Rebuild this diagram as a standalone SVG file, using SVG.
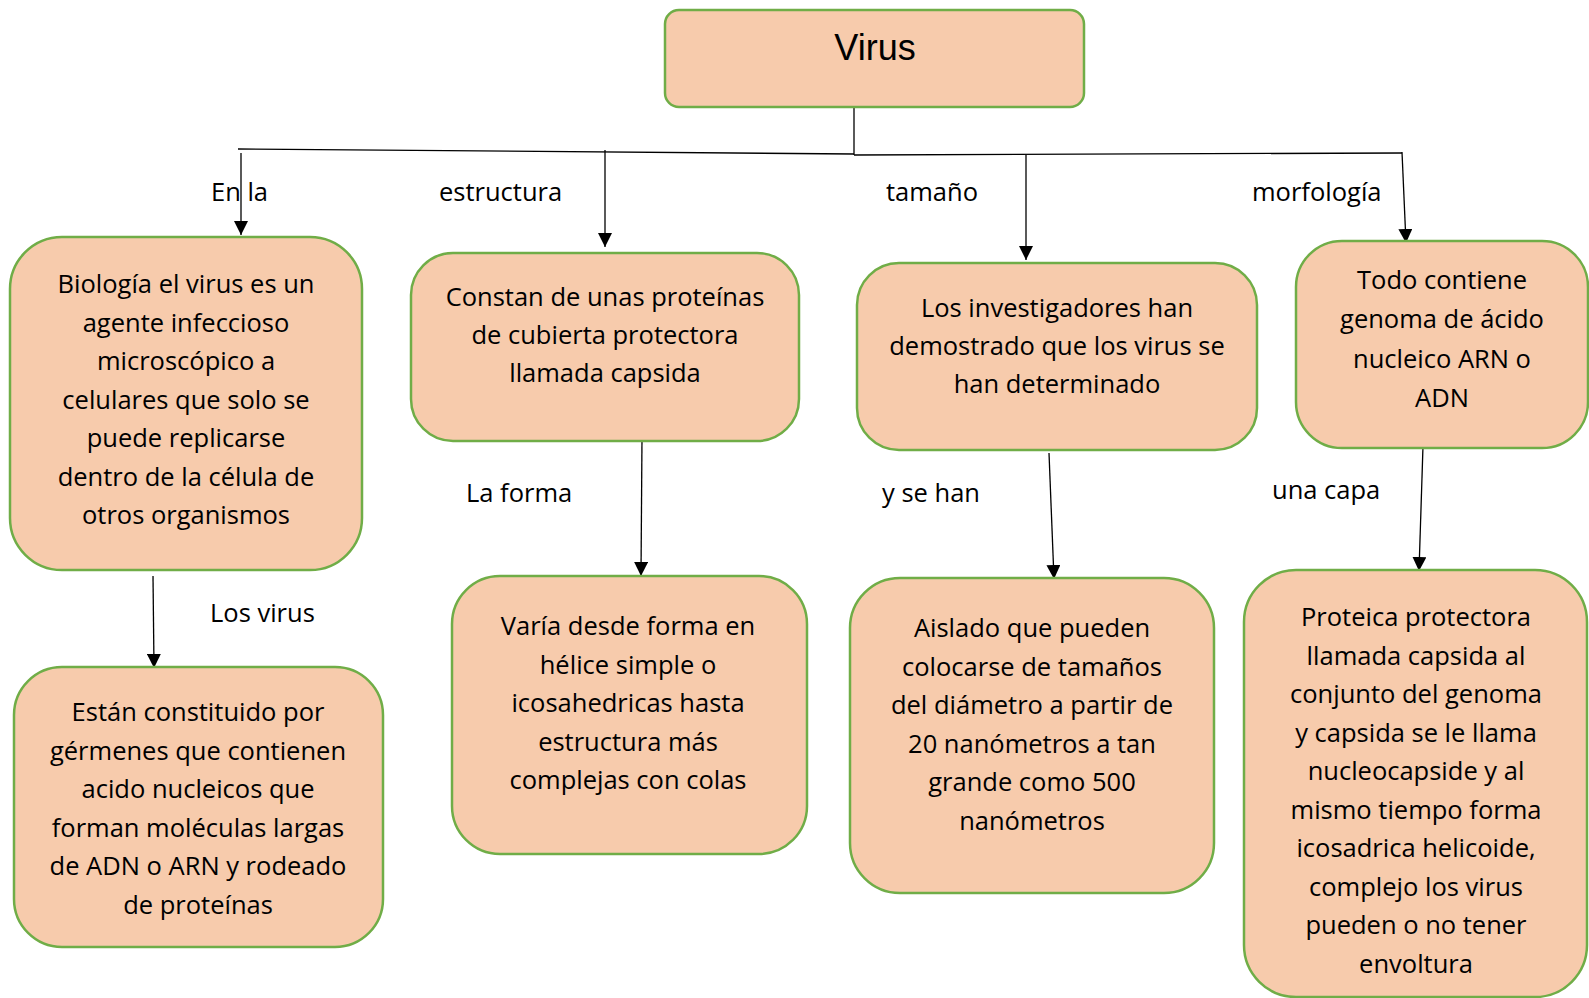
<svg xmlns="http://www.w3.org/2000/svg" width="1589" height="998" viewBox="0 0 1589 998">
<defs>
<marker id="ah" markerWidth="14" markerHeight="14" refX="14" refY="7" orient="auto" markerUnits="userSpaceOnUse">
<path d="M0,0 L14,7 L0,14 Z" fill="#000"/>
</marker>
<style>
.box{fill:#F7CBAC;stroke:#70AD47;stroke-width:2.5}
.t{font-family:"Open Sans","Noto Sans",sans-serif;font-size:25.5px;fill:#000;text-anchor:middle}
.lbl{font-family:"Open Sans","Noto Sans",sans-serif;font-size:25.5px;fill:#000}
.ln{stroke:#000;stroke-width:1.3;fill:none}
.ar{stroke:#000;stroke-width:1.3;fill:none;marker-end:url(#ah)}
</style>
</defs>
<rect width="1589" height="998" fill="#fff"/>
<g id="connectors">
<path class="ln" d="M854,107 L854,155"/>
<path class="ln" d="M238,149 L854,154"/>
<path class="ln" d="M854,155 L1402,153"/>
<path class="ar" d="M241,153 L241,235"/>
<path class="ar" d="M605,150 L605,247"/>
<path class="ar" d="M1026,155 L1026,260"/>
<path class="ar" d="M1402,152 L1406,243"/>
<path class="ar" d="M153,576 L154,668"/>
<path class="ar" d="M642,437 L641,576"/>
<path class="ar" d="M1049,453 L1054,579"/>
<path class="ar" d="M1423,446 L1419,571"/>
</g>
<g id="labels">
<text class="lbl" x="211" y="201">En la</text>
<text class="lbl" x="439" y="201">estructura</text>
<text class="lbl" x="886" y="201">tamaño</text>
<text class="lbl" x="1252" y="201">morfología</text>
<text class="lbl" x="210" y="622">Los virus</text>
<text class="lbl" x="466" y="502">La forma</text>
<text class="lbl" x="882" y="502">y se han</text>
<text class="lbl" x="1272" y="499">una capa</text>
</g>
<g id="virus">
<rect class="box" x="665" y="10" width="419" height="97" rx="14"/>
<text x="875" y="60" font-family="'Liberation Sans',Arial,sans-serif" font-size="36" text-anchor="middle">Virus</text>
</g>
<g id="n1">
<rect class="box" x="10" y="237" width="352" height="333" rx="52"/>
<text class="t" x="186"><tspan x="186" y="293">Biología el virus es un</tspan><tspan x="186" y="331.5">agente infeccioso</tspan><tspan x="186" y="370">microscópico a</tspan><tspan x="186" y="408.5">celulares que solo se</tspan><tspan x="186" y="447">puede replicarse</tspan><tspan x="186" y="485.5">dentro de la célula de</tspan><tspan x="186" y="524">otros organismos</tspan></text>
</g>
<g id="n2">
<rect class="box" x="411" y="253" width="388" height="188" rx="42"/>
<text class="t" x="605"><tspan x="605" y="306">Constan de unas proteínas</tspan><tspan x="605" y="344">de cubierta protectora</tspan><tspan x="605" y="382">llamada capsida</tspan></text>
</g>
<g id="n3">
<rect class="box" x="857" y="263" width="400" height="187" rx="42"/>
<text class="t" x="1057"><tspan x="1057" y="317">Los investigadores han</tspan><tspan x="1057" y="355">demostrado que los virus se</tspan><tspan x="1057" y="393">han determinado</tspan></text>
</g>
<g id="n4">
<rect class="box" x="1296" y="241" width="292" height="207" rx="46"/>
<text class="t" x="1442"><tspan x="1442" y="289">Todo contiene</tspan><tspan x="1442" y="328">genoma de ácido</tspan><tspan x="1442" y="368">nucleico ARN o</tspan><tspan x="1442" y="407">ADN</tspan></text>
</g>
<g id="n5">
<rect class="box" x="14" y="667" width="369" height="280" rx="48"/>
<text class="t" x="198"><tspan x="198" y="721">Están constituido por</tspan><tspan x="198" y="759.5">gérmenes que contienen</tspan><tspan x="198" y="798">acido nucleicos que</tspan><tspan x="198" y="836.5">forman moléculas largas</tspan><tspan x="198" y="875">de ADN o ARN y rodeado</tspan><tspan x="198" y="913.5">de proteínas</tspan></text>
</g>
<g id="n6">
<rect class="box" x="452" y="576" width="355" height="278" rx="48"/>
<text class="t" x="628"><tspan x="628" y="635">Varía desde forma en</tspan><tspan x="628" y="673.5">hélice simple o</tspan><tspan x="628" y="712">icosahedricas hasta</tspan><tspan x="628" y="750.5">estructura más</tspan><tspan x="628" y="789">complejas con colas</tspan></text>
</g>
<g id="n7">
<rect class="box" x="850" y="578" width="364" height="315" rx="50"/>
<text class="t" x="1032"><tspan x="1032" y="637">Aislado que pueden</tspan><tspan x="1032" y="675.5">colocarse de tamaños</tspan><tspan x="1032" y="714">del diámetro a partir de</tspan><tspan x="1032" y="752.5">20 nanómetros a tan</tspan><tspan x="1032" y="791">grande como 500</tspan><tspan x="1032" y="829.5">nanómetros</tspan></text>
</g>
<g id="n8">
<rect class="box" x="1244" y="570" width="343" height="427" rx="52"/>
<text class="t" x="1416"><tspan x="1416" y="626">Proteica protectora</tspan><tspan x="1416" y="664.5">llamada capsida al</tspan><tspan x="1416" y="703">conjunto del genoma</tspan><tspan x="1416" y="741.5">y capsida se le llama</tspan><tspan x="1416" y="780">nucleocapside y al</tspan><tspan x="1416" y="818.5">mismo tiempo forma</tspan><tspan x="1416" y="857">icosadrica helicoide,</tspan><tspan x="1416" y="895.5">complejo los virus</tspan><tspan x="1416" y="934">pueden o no tener</tspan><tspan x="1416" y="972.5">envoltura</tspan></text>
</g>
</svg>
